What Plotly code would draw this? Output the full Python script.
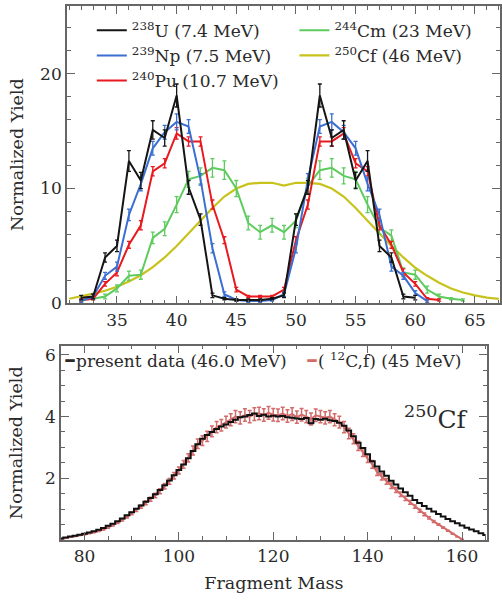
import plotly.graph_objects as go

W, H = 502, 603
FONT = "DejaVu Serif"

# ---------------- top panel data (integer masses) ----------------
u_mass = list(range(32, 61))
u_yield = [0.5, 0.6, 4.0, 5.0, 12.4, 10.7, 15.1, 14.4, 18.1, 10.1, 7.3, 0.7, 0.4, 0.3, 0.3,
           0.3, 0.4, 0.7, 7.3, 10.1, 18.1, 14.4, 15.1, 10.7, 12.4, 5.0, 4.0, 0.6, 0.5]
u_err = [0.2, 0.2, 0.4, 0.5, 0.9, 0.7, 0.8, 0.7, 1.0, 0.6, 0.5, 0.2, 0.1, 0.1, 0.1,
         0.1, 0.1, 0.2, 0.5, 0.6, 1.0, 0.7, 0.8, 0.7, 0.9, 0.5, 0.4, 0.2, 0.2]

np_mass = list(range(32, 62))
np_yield = [0.2, 0.6, 2.4, 3.2, 7.7, 10.4, 13.5, 14.9, 15.8, 15.4, 10.8, 4.8, 0.8, 0.3, 0.2,
            0.2, 0.3, 0.8, 4.8, 10.8, 15.4, 15.8, 14.9, 13.5, 10.4, 7.7, 3.2, 2.4, 0.9, 0.2]
np_err = [0.1, 0.2, 0.3, 0.4, 0.5, 0.6, 0.6, 0.6, 0.7, 0.6, 0.5, 0.4, 0.2, 0.1, 0.1,
          0.1, 0.1, 0.2, 0.4, 0.5, 0.6, 0.7, 0.6, 0.6, 0.6, 0.5, 0.4, 0.3, 0.2, 0.1]

pu_mass = list(range(32, 63))
pu_yield = [0.3, 0.4, 1.7, 2.7, 5.1, 6.8, 11.5, 12.2, 14.8, 14.1, 14.1, 8.6, 5.5, 1.2, 0.6, 0.6,
            0.6, 1.2, 5.5, 8.6, 14.1, 14.1, 14.8, 12.2, 11.5, 6.8, 5.1, 2.7, 1.7, 0.4, 0.3]
pu_err = [0.1, 0.1, 0.2, 0.3, 0.3, 0.4, 0.4, 0.4, 0.5, 0.4, 0.4, 0.4, 0.3, 0.2, 0.1, 0.1,
          0.1, 0.2, 0.3, 0.4, 0.4, 0.4, 0.5, 0.4, 0.4, 0.4, 0.3, 0.3, 0.2, 0.1, 0.1]

cm_mass = list(range(32, 65))
cm_yield = [0.3, 0.4, 0.6, 1.3, 2.4, 2.5, 5.7, 6.5, 8.6, 10.8, 11.1, 11.8, 11.6, 10.0, 7.0, 6.2, 6.8,
            6.2, 7.2, 10.2, 11.6, 11.8, 11.1, 10.8, 8.6, 6.6, 5.9, 2.7, 2.5, 1.2, 0.6, 0.4, 0.3]
cm_err = [0.1, 0.1, 0.2, 0.3, 0.4, 0.4, 0.5, 0.6, 0.7, 0.7, 0.7, 0.8, 0.8, 0.7, 0.6, 0.6, 0.6,
          0.6, 0.6, 0.7, 0.8, 0.8, 0.7, 0.7, 0.7, 0.6, 0.5, 0.4, 0.4, 0.3, 0.2, 0.1, 0.1]

cf_mass = list(range(31, 68))
cf_yield = [0.4, 0.6, 0.85, 1.1, 1.45, 1.9, 2.45, 3.15, 4.0, 5.0, 6.1, 7.2, 8.3, 9.3, 10.0, 10.4,
            10.5, 10.5, 10.25, 10.5, 10.5, 10.4, 10.0, 9.3, 8.3, 7.2, 6.1, 5.0, 4.0, 3.1, 2.4,
            1.8, 1.3, 0.95, 0.7, 0.5, 0.4]

# ---------------- bottom panel data ----------------
pres_mass = list(range(75, 166))
pres_yield = [0.05, 0.08, 0.11, 0.14, 0.17, 0.20, 0.24, 0.28, 0.33, 0.39,
              0.46, 0.53, 0.61, 0.70, 0.80, 0.90, 1.01, 1.12, 1.24, 1.36,
              1.48, 1.62, 1.77, 1.93, 2.10, 2.27, 2.45, 2.65, 2.88, 3.10,
              3.28, 3.40, 3.50, 3.60, 3.68, 3.74, 3.82, 3.90, 3.98, 4.00,
              4.05, 4.10, 4.02, 4.06, 4.00, 4.03, 4.00, 4.02, 3.98, 3.96,
              3.94, 3.92, 3.95, 3.78, 3.92, 3.90, 3.93, 3.88, 3.86, 3.80,
              3.70, 3.55, 3.36, 3.15, 2.98, 2.78, 2.55, 2.38, 2.22, 2.08,
              1.92, 1.80, 1.67, 1.55, 1.43, 1.30, 1.20, 1.10, 1.01, 0.92,
              0.84, 0.76, 0.68, 0.61, 0.54, 0.47, 0.40, 0.34, 0.28, 0.22, 0.16]

c12_mass = list(range(75, 161))
c12_yield = [0.03, 0.06, 0.09, 0.12, 0.15, 0.18, 0.21, 0.25, 0.29, 0.34,
             0.40, 0.48, 0.56, 0.65, 0.75, 0.86, 0.97, 1.08, 1.20, 1.32,
             1.44, 1.58, 1.74, 1.90, 2.08, 2.25, 2.45, 2.66, 2.90, 3.12,
             3.22, 3.36, 3.52, 3.66, 3.72, 3.82, 3.90, 4.00, 3.96, 4.05,
             4.00, 4.08, 4.10, 4.05, 4.12, 4.06, 4.04, 4.10, 4.02, 4.08,
             3.98, 4.06, 4.00, 3.92, 4.04, 4.00, 3.96, 4.00, 3.90, 3.82,
             3.66, 3.45, 3.28, 3.05, 2.85, 2.64, 2.45, 2.20, 2.05, 1.90,
             1.76, 1.62, 1.48, 1.35, 1.22, 1.08, 0.95, 0.83, 0.72, 0.60,
             0.50, 0.40, 0.30, 0.20, 0.10, 0.02]

top_xticks = [35, 40, 45, 50, 55, 60, 65]
top_yticks = [0, 10, 20]
bot_xticks = [80, 100, 120, 140, 160]
bot_yticks = [2, 4, 6]

C_U, C_NP, C_PU, C_CM, C_CF = "#151515", "#3c6fd2", "#e8191f", "#5ecb5e", "#c8c31c"
C_PRES, C_C12 = "#111111", "#d36b6b"
AX = "#666666"
TXT = "#2a2a2a"


def px_x(p):
    return p / W


def px_y(p):
    return 1 - p / H


fig = go.Figure()

fig.add_trace(go.Scatter(x=cf_mass, y=cf_yield, name="<sup>250</sup>Cf (46 MeV)",
                         mode="lines", legend="legend2", line=dict(color=C_CF, width=2.2),
                         xaxis="x", yaxis="y"))


def add_err(name, x, y, e, color, legend):
    fig.add_trace(go.Scatter(
        x=x, y=y, name=name, mode="lines", legend=legend,
        line=dict(color=color, width=2),
        error_y=dict(type="data", array=e, color=color, thickness=1.3, width=2),
        xaxis="x", yaxis="y"))


add_err("<sup>244</sup>Cm (23 MeV)", cm_mass, cm_yield, cm_err, C_CM, "legend2")
add_err("<sup>240</sup>Pu (10.7 MeV)", pu_mass, pu_yield, pu_err, C_PU, "legend")
add_err("<sup>239</sup>Np (7.5 MeV)", np_mass, np_yield, np_err, C_NP, "legend")
add_err("<sup>238</sup>U (7.4 MeV)", u_mass, u_yield, u_err, C_U, "legend")

fig.add_trace(go.Scatter(
    x=c12_mass, y=c12_yield, name="(<sup>12</sup>C,f) (45 MeV)", mode="lines",
    line=dict(color=C_C12, width=2),
    error_y=dict(type="percent", value=5, color=C_C12, thickness=1.5, width=2),
    showlegend=False, xaxis="x2", yaxis="y2"))
fig.add_trace(go.Scatter(
    x=pres_mass, y=pres_yield, name="present data (46.0 MeV)", mode="lines",
    line=dict(color=C_PRES, width=2, shape="hvh"),
    showlegend=False, xaxis="x2", yaxis="y2"))

axis_common = dict(showline=True, linecolor=AX, linewidth=1.5, mirror="ticks",
                   ticks="inside", tickcolor=AX, tickwidth=1.3, ticklen=8,
                   showgrid=False, zeroline=False,
                   tickfont=dict(family=FONT, size=17, color=TXT))
title_font = dict(family=FONT, size=17.5, color=TXT)
minor_common = dict(ticks="inside", ticklen=4, tickcolor=AX, tickwidth=1.2, tick0=0)

fig.update_layout(
    width=W, height=H, margin=dict(l=0, r=0, t=0, b=0),
    paper_bgcolor="white", plot_bgcolor="white",
    font=dict(family=FONT, size=17, color=TXT),
    xaxis=dict(domain=[px_x(67), px_x(501)], range=[30.8, 67.1], anchor="y",
               tickvals=top_xticks, minor=dict(dtick=1, **minor_common), **axis_common),
    yaxis=dict(domain=[px_y(308), px_y(5)], range=[0, 25.9], anchor="x",
               tickvals=top_yticks, minor=dict(dtick=2, **minor_common),
               title=dict(text="Normalized Yield", font=title_font, standoff=12),
               **axis_common),
    xaxis2=dict(domain=[px_x(61), px_x(488)], range=[75, 165.3], anchor="y2",
                tickvals=bot_xticks, minor=dict(dtick=5, **minor_common),
                title=dict(text="Fragment Mass", font=title_font, standoff=12),
                **axis_common),
    yaxis2=dict(domain=[px_y(549), px_y(351)], range=[0, 6.3], anchor="x2",
                tickvals=bot_yticks, minor=dict(dtick=0.5, **minor_common),
                title=dict(text="Normalized Yield", font=title_font, standoff=18),
                **axis_common),
    legend=dict(x=px_x(92), y=px_y(12), xanchor="left", yanchor="top",
                bgcolor="rgba(0,0,0,0)", font=dict(family=FONT, size=17, color=TXT),
                tracegroupgap=0, traceorder="reversed"),
    legend2=dict(x=px_x(295), y=px_y(12), xanchor="left", yanchor="top",
                 bgcolor="rgba(0,0,0,0)", font=dict(family=FONT, size=17, color=TXT),
                 tracegroupgap=0, traceorder="reversed"),
    showlegend=True,
)

fig.add_annotation(xref="paper", yref="paper", x=px_x(62), y=px_y(364),
                   xanchor="left", yanchor="middle", showarrow=False,
                   text="<span style='font-size:24px;font-weight:bold'>–</span>present data (46.0 MeV)",
                   font=dict(family=FONT, size=17, color=TXT))
fig.add_annotation(xref="paper", yref="paper", x=px_x(305), y=px_y(364),
                   xanchor="left", yanchor="middle", showarrow=False,
                   text="<span style='color:%s;font-size:24px;font-weight:bold'>–</span>( <sup>12</sup>C,f) (45 MeV)" % C_C12,
                   font=dict(family=FONT, size=17, color=TXT))
fig.add_annotation(xref="paper", yref="paper", x=px_x(471), y=px_y(424),
                   xanchor="right", yanchor="middle", showarrow=False,
                   text="<sup>250</sup>Cf",
                   font=dict(family=FONT, size=25, color=TXT))

fig.write_html("out.html")
